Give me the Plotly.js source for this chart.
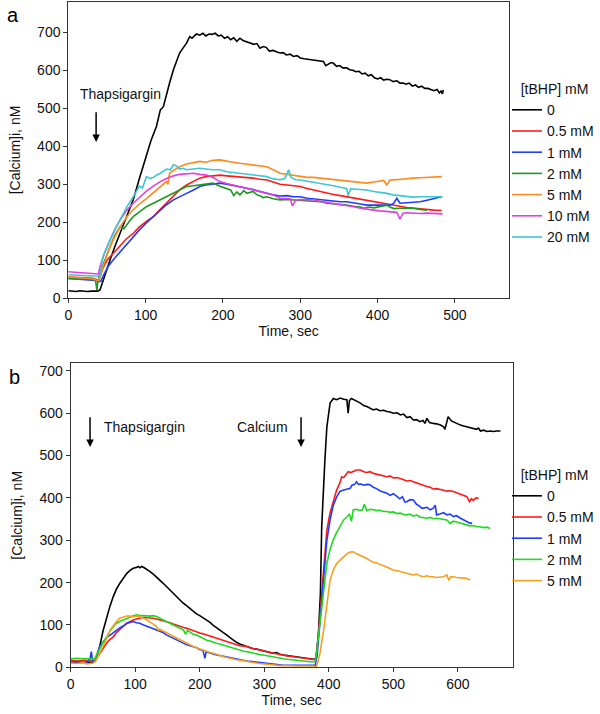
<!DOCTYPE html>
<html>
<head>
<meta charset="utf-8">
<script src="https://cdn.plot.ly/plotly-3.0.1.min.js"></script>
<style>
  html, body { margin: 0; padding: 0; background: #fff; }
  #chart { width: 600px; height: 714px; }
</style>
</head>
<body>
<div id="chart"></div>
<script>
// Panel a: [Calcium]i traces after thapsigargin, by tBHP dose
const aLabels = ["0", "0.5 mM", "1 mM", "2 mM", "5 mM", "10 mM", "20 mM"];

const aTime0 = [0, 5, 10, 15, 20, 25, 30, 35, 38, 41, 47, 54, 60, 67, 75, 84, 92, 101, 107, 114, 119, 123, 127, 131, 136, 140, 144, 149, 153, 157, 160, 163, 166, 170, 174, 178, 182, 186, 190, 194, 198, 202, 206, 210, 214, 218, 222, 226, 230, 235, 240, 244, 248, 252, 256, 260, 265, 270, 274, 278, 282, 287, 291, 296, 300, 305, 309, 313, 318, 322, 326, 330, 333, 336, 340, 343, 347, 351, 355, 360, 364, 368, 372, 376, 380, 384, 388, 392, 396, 400, 404, 408, 412, 416, 420, 425, 429, 433, 437, 441, 445, 449, 453, 457, 461, 465, 469, 473, 477, 480, 482, 484, 485];
const aVal0 = [20, 19, 18, 20, 19, 18, 19, 18, 19, 22, 60, 101, 135, 171, 212, 259, 315, 373, 415, 452, 495, 504, 539, 566, 601, 625, 645, 660, 671, 688, 684, 690, 695, 692, 697, 690, 695, 694, 697, 690, 692, 684, 688, 680, 685, 676, 684, 678, 675, 673, 668, 670, 658, 662, 660, 650, 652, 648, 645, 646, 640, 642, 636, 638, 632, 630, 629, 627, 626, 625, 624, 623, 612, 615, 620, 618, 610, 612, 606, 606, 601, 600, 596, 597, 590, 592, 585, 588, 580, 577, 580, 574, 576, 575, 570, 572, 566, 566, 563, 566, 558, 561, 555, 558, 552, 552, 548, 546, 549, 540, 545, 538, 548];

const aTime05 = [0, 10, 20, 30, 36, 39, 41, 45, 50, 58, 66, 75, 84, 92, 101, 110, 118, 127, 136, 144, 153, 162, 170, 178, 187, 196, 205, 213, 222, 230, 239, 248, 257, 265, 274, 283, 291, 300, 309, 317, 326, 335, 343, 352, 360, 369, 378, 386, 395, 403, 412, 420, 429, 438, 446, 455, 464, 473, 483];
const aVal05 = [56, 55, 54, 53, 50, 47, 57, 80, 100, 118, 138, 156, 171, 188, 202, 215, 232, 250, 268, 285, 298, 308, 316, 320, 322, 324, 322, 321, 320, 318, 316, 313, 311, 306, 300, 298, 296, 294, 289, 285, 281, 276, 273, 270, 267, 263, 260, 257, 254, 250, 248, 245, 242, 239, 237, 235, 233, 232, 231];

const aTime1 = [0, 10, 20, 30, 36, 39, 42, 46, 52, 58, 66, 75, 84, 92, 101, 110, 118, 127, 136, 144, 153, 162, 170, 178, 187, 196, 205, 213, 222, 230, 239, 248, 257, 265, 274, 283, 291, 300, 309, 317, 326, 335, 343, 352, 360, 369, 378, 386, 395, 403, 412, 416, 421, 425, 429, 438, 446, 455, 464, 473, 483];
const aVal1 = [52, 51, 50, 49, 47, 44, 45, 62, 85, 101, 120, 142, 162, 180, 198, 215, 230, 246, 259, 268, 276, 285, 294, 298, 300, 303, 300, 297, 294, 290, 286, 281, 276, 272, 269, 270, 267, 267, 263, 261, 259, 257, 256, 254, 254, 250, 248, 245, 245, 244, 245, 245, 250, 263, 250, 252, 253, 254, 258, 262, 267];

const aTime2 = [0, 10, 20, 30, 35, 37, 38, 41, 47, 54, 60, 67, 72, 76, 80, 84, 92, 101, 110, 119, 127, 136, 144, 153, 162, 170, 178, 187, 196, 205, 210, 214, 218, 222, 227, 231, 235, 239, 244, 248, 252, 257, 265, 274, 283, 291, 300, 309, 317, 326, 335, 343, 352, 360, 369, 378, 382, 390, 395, 403, 412, 416, 421, 429, 438, 446, 455, 464];
const aVal2 = [52, 51, 50, 50, 49, 22, 40, 66, 100, 136, 165, 188, 183, 195, 205, 215, 228, 241, 250, 259, 268, 276, 285, 294, 296, 298, 300, 303, 295, 289, 285, 270, 280, 272, 283, 276, 279, 281, 272, 270, 265, 267, 262, 259, 260, 259, 259, 257, 255, 254, 250, 249, 247, 245, 242, 240, 237, 240, 238, 242, 245, 240, 236, 237, 238, 237, 234, 232];

const aTime5 = [0, 10, 20, 30, 36, 39, 42, 45, 51, 58, 67, 76, 84, 93, 101, 110, 114, 120, 127, 129, 131, 136, 144, 153, 162, 170, 178, 187, 196, 205, 213, 222, 230, 239, 248, 257, 265, 274, 283, 291, 300, 309, 317, 326, 335, 343, 352, 360, 369, 378, 386, 395, 403, 408, 412, 416, 425, 433, 446, 455, 464, 473, 483];
const aVal5 = [56, 55, 54, 52, 48, 47, 60, 83, 120, 153, 188, 215, 233, 250, 262, 278, 285, 295, 307, 300, 329, 336, 346, 353, 357, 360, 358, 363, 364, 360, 358, 355, 353, 350, 348, 346, 338, 329, 326, 324, 320, 318, 318, 316, 313, 311, 309, 307, 305, 304, 303, 306, 309, 310, 298, 311, 312, 314, 316, 317, 318, 318, 320];

const aTime10 = [0, 10, 20, 30, 36, 39, 41, 47, 54, 60, 67, 75, 84, 93, 101, 110, 119, 127, 136, 144, 153, 162, 170, 179, 187, 196, 205, 213, 222, 230, 239, 248, 257, 265, 274, 283, 287, 290, 294, 300, 309, 317, 326, 335, 343, 352, 360, 369, 378, 386, 395, 403, 412, 420, 425, 429, 433, 438, 446, 455, 464, 473, 484];
const aVal10 = [70, 68, 66, 65, 63, 64, 83, 120, 153, 180, 206, 230, 250, 267, 282, 295, 307, 315, 322, 326, 328, 329, 326, 324, 318, 307, 302, 298, 294, 290, 285, 280, 276, 272, 263, 262, 262, 243, 258, 260, 259, 259, 255, 252, 249, 247, 245, 241, 237, 234, 232, 230, 228, 226, 226, 208, 224, 225, 224, 223, 224, 223, 222];

const aTime20 = [0, 10, 20, 30, 36, 39, 41, 45, 50, 54, 60, 67, 75, 84, 92, 96, 101, 106, 110, 115, 119, 127, 132, 136, 140, 144, 149, 153, 162, 170, 178, 187, 196, 205, 213, 222, 230, 239, 248, 257, 265, 274, 280, 285, 288, 294, 300, 309, 317, 326, 335, 343, 352, 360, 362, 365, 373, 386, 395, 403, 412, 420, 429, 438, 446, 455, 464, 473, 484];
const aVal20 = [62, 61, 60, 59, 57, 58, 60, 110, 135, 153, 180, 206, 238, 267, 295, 290, 320, 315, 318, 325, 329, 340, 338, 351, 348, 340, 342, 338, 340, 342, 340, 338, 338, 333, 331, 329, 327, 325, 322, 320, 314, 312, 315, 338, 318, 312, 311, 308, 305, 303, 299, 296, 292, 289, 270, 288, 287, 285, 281, 279, 276, 272, 270, 267, 266, 267, 267, 266, 267];

// Panel b: thapsigargin in Ca-free medium, then calcium added back
const bLabels = ["0", "0.5 mM", "1 mM", "2 mM", "5 mM"];

const bTime0 = [0, 10, 20, 30, 35, 38, 45, 50, 56, 61, 66, 71, 76, 82, 87, 92, 97, 102, 105, 107, 110, 114, 118, 123, 128, 133, 138, 143, 149, 154, 159, 164, 169, 174, 180, 185, 190, 195, 200, 205, 211, 216, 221, 226, 231, 237, 242, 247, 252, 257, 262, 268, 273, 278, 283, 288, 293, 298, 304, 309, 314, 319, 324, 330, 335, 340, 345, 350, 356, 361, 366, 371, 376, 380, 384, 387, 389, 394, 397, 402, 407, 412, 418, 423, 428, 430, 432, 435, 440, 444, 449, 454, 459, 464, 469, 474, 479, 485, 490, 495, 500, 506, 511, 516, 521, 526, 531, 536, 541, 546, 549, 552, 556, 562, 567, 573, 578, 580, 585, 590, 595, 600, 604, 609, 614, 619, 624, 629, 632, 635, 640, 645, 650, 655, 660, 666];
const bVal0 = [12, 11, 12, 11, 12, 17, 49, 85, 120, 145, 167, 185, 198, 212, 222, 229, 234, 236, 238, 235, 238, 235, 230, 226, 220, 214, 206, 199, 190, 183, 175, 167, 159, 152, 145, 138, 131, 126, 122, 117, 112, 106, 99, 93, 88, 82, 76, 70, 64, 59, 55, 52, 49, 46, 44, 43, 41, 39, 38, 35, 33, 35, 31, 29, 28, 26, 25, 24, 23, 22, 21, 20, 19, 20, 80, 175, 332, 490, 568, 624, 635, 632, 636, 633, 632, 600, 630, 635, 630, 628, 624, 618, 616, 612, 608, 610, 606, 607, 604, 603, 600, 601, 596, 598, 590, 592, 584, 585, 580, 583, 576, 588, 578, 576, 575, 572, 568, 562, 592, 582, 578, 575, 572, 570, 568, 566, 565, 562, 565, 558, 560, 557, 558, 557, 558, 558];

const bTime05 = [0, 10, 20, 30, 38, 45, 50, 56, 61, 66, 71, 76, 82, 87, 92, 97, 102, 107, 113, 118, 123, 128, 133, 138, 143, 149, 154, 159, 164, 169, 175, 180, 185, 190, 195, 200, 205, 211, 216, 221, 226, 231, 237, 242, 247, 252, 257, 262, 268, 273, 278, 283, 288, 293, 298, 304, 309, 314, 319, 324, 330, 335, 340, 345, 350, 356, 361, 366, 371, 376, 379, 381, 386.5, 392, 397, 402, 407, 412, 417, 420, 423, 427, 430, 434, 438, 443, 449, 454, 459, 464, 469, 474, 479, 485, 490, 495, 500, 506, 511, 516, 521, 526, 531, 536, 541, 547, 552, 557, 562, 567, 573, 578, 583, 588, 593, 598, 604, 609, 614, 618, 621, 624, 628, 632];
const bVal05 = [16, 15, 16, 15, 16, 33, 46, 58, 66, 72, 82, 90, 98, 104, 109, 112, 114, 116, 118, 117, 117, 116, 114, 112, 110, 108, 105, 102, 99, 97, 94, 92, 89, 86, 83, 81, 79, 76, 73, 70, 68, 65, 63, 60, 57, 55, 53, 51, 50, 49, 46, 44, 42, 40, 38, 37, 35, 33, 32, 30, 29, 27, 26, 25, 24, 22, 21, 20, 19, 19, 18, 22, 127, 246, 324, 365, 395, 418, 435, 450, 448, 455, 462, 460, 463, 466, 466, 462, 460, 462, 458, 456, 455, 452, 450, 452, 447, 448, 446, 443, 440, 441, 438, 435, 432, 430, 427, 425, 421, 422, 419, 418, 416, 417, 415, 412, 410, 406, 403, 391, 398, 394, 400, 399];

const bTime1 = [0, 10, 20, 25, 30, 32, 34, 38, 45, 50, 56, 61, 66, 71, 76, 82, 87, 92, 97, 102, 107, 113, 118, 123, 128, 133, 138, 143, 149, 154, 159, 164, 169, 175, 180, 185, 190, 195, 200, 205, 208, 210, 216, 221, 226, 231, 237, 242, 247, 252, 257, 262, 268, 273, 278, 283, 288, 293, 298, 304, 309, 314, 319, 324, 330, 340, 350, 360, 370, 376, 379, 382, 386.5, 392, 397, 402, 407, 412, 417, 422, 427, 433, 436, 440, 443, 446, 450, 454, 459, 464, 469, 474, 479, 485, 490, 495, 500, 505, 510, 514, 518, 521, 526, 531, 536, 541, 544, 547, 552, 557, 562, 565, 567, 572, 578, 583, 588, 593, 598, 604, 609, 614, 618, 622];
const bVal1 = [12, 13, 11, 12, 20, 37, 15, 14, 49, 60, 70, 76, 80, 87, 93, 98, 104, 106, 108, 105, 104, 100, 97, 94, 91, 88, 85, 82, 76, 72, 68, 64, 60, 56, 53, 51, 49, 46, 42, 40, 21, 37, 34, 31, 29, 28, 26, 25, 23, 21, 19, 17, 16, 15, 14, 13, 12, 11, 10, 9, 8, 7, 6, 5, 5, 5, 5, 4, 4, 4, 5, 30, 110, 222, 300, 348, 383, 402, 415, 418, 420, 423, 430, 432, 438, 432, 433, 430, 432, 431, 425, 422, 417, 414, 411, 406, 410, 404, 398, 403, 390, 391, 396, 395, 385, 380, 376, 376, 378, 372, 376, 383, 360, 362, 365, 360, 362, 356, 358, 352, 348, 345, 341, 340];

const bTime2 = [0, 10, 20, 30, 38, 40, 45, 50, 56, 61, 66, 71, 76, 82, 87, 92, 97, 102, 107, 113, 118, 123, 128, 133, 138, 143, 149, 154, 159, 164, 169, 175, 178, 181, 185, 190, 195, 200, 205, 211, 216, 221, 226, 231, 237, 242, 247, 252, 257, 262, 268, 273, 278, 283, 288, 293, 298, 304, 309, 314, 319, 324, 330, 335, 340, 345, 350, 356, 361, 366, 371, 376, 379, 381, 386.5, 392, 397, 402, 407, 412, 417, 423, 428, 432, 435, 438, 443, 448, 452, 455, 459, 464, 469, 474, 479, 485, 490, 495, 500, 506, 511, 516, 521, 526, 531, 536, 541, 547, 552, 557, 562, 567, 573, 578, 583, 588, 593, 598, 604, 609, 614, 619, 624, 629, 634, 640, 645, 650];
const bVal2 = [20, 21, 20, 20, 21, 29, 45, 58, 72, 86, 96, 104, 108, 112, 116, 119, 122, 124, 122, 122, 121, 121, 122, 120, 116, 112, 108, 104, 99, 96, 92, 88, 78, 87, 83, 78, 76, 72, 68, 64, 62, 59, 57, 55, 52, 50, 47, 45, 42, 40, 38, 37, 35, 33, 32, 30, 29, 27, 26, 25, 23, 22, 20, 19, 18, 17, 16, 15, 14, 14, 13, 13, 14, 33, 110, 180, 246, 278, 301, 318, 332, 348, 355, 362, 345, 372, 373, 370, 372, 385, 370, 373, 372, 370, 371, 368, 368, 366, 367, 363, 364, 361, 360, 362, 357, 360, 355, 354, 352, 354, 351, 352, 350, 348, 348, 340, 345, 343, 340, 338, 336, 334, 335, 332, 332, 330, 331, 328];

const bTime5 = [0, 10, 20, 25, 30, 35, 40, 45, 50, 56, 61, 66, 71, 76, 82, 87, 92, 97, 102, 107, 113, 118, 123, 128, 133, 136, 138, 143, 149, 154, 159, 164, 169, 175, 180, 185, 190, 195, 200, 205, 211, 216, 221, 226, 231, 237, 242, 247, 252, 257, 262, 268, 273, 278, 283, 288, 293, 298, 304, 309, 314, 319, 324, 330, 340, 350, 360, 370, 376, 381, 386, 392, 397, 402, 407, 412, 417.5, 423, 428, 433, 438, 443, 449, 454, 459, 464, 469, 474, 480, 485, 490, 495, 500, 506, 511, 516, 521, 526, 531, 536, 541, 547, 552, 557, 562, 567, 573, 578, 583, 586, 589, 593, 598, 604, 609, 614, 619];
const bVal5 = [10, 9, 11, 8, 9, 10, 18, 33, 50, 68, 88, 99, 108, 116, 119, 121, 121, 119, 121, 120, 116, 112, 108, 102, 96, 88, 90, 86, 81, 76, 72, 68, 64, 60, 56, 52, 49, 46, 43, 41, 38, 35, 33, 30, 28, 25, 23, 21, 19, 18, 17, 15, 14, 12, 11, 10, 9, 8, 8, 6, 5, 5, 4, 4, 3, 3, 3, 3, 3, 1, 30, 88, 150, 206, 230, 245, 253, 262, 268, 272, 273, 268, 264, 262, 257, 252, 248, 247, 242, 240, 236, 233, 230, 228, 226, 224, 222, 220, 218, 220, 216, 214, 216, 214, 214, 212, 213, 214, 218, 205, 214, 214, 212, 211, 210, 210, 206];

const aColors = ["#000000", "#ff1a1a", "#1f3dff", "#1a9a1a", "#ff8a1f", "#e040e0", "#3cc8d2"];
const bColors = ["#000000", "#ff1a1a", "#1f3dff", "#1fd81f", "#f5a01e"];

const aTimes = [aTime0, aTime05, aTime1, aTime2, aTime5, aTime10, aTime20];
const aVals = [aVal0, aVal05, aVal1, aVal2, aVal5, aVal10, aVal20];
const bTimes = [bTime0, bTime05, bTime1, bTime2, bTime5];
const bVals = [bVal0, bVal05, bVal1, bVal2, bVal5];

const FONT = "Liberation Sans, Arial, sans-serif";

const traces = [];
aLabels.forEach((name, i) => {
  traces.push({
    x: aTimes[i], y: aVals[i], name: name,
    type: "scatter", mode: "lines",
    line: { color: aColors[i], width: 1.6 },
    xaxis: "x", yaxis: "y", legend: "legend"
  });
});
bLabels.forEach((name, i) => {
  traces.push({
    x: bTimes[i], y: bVals[i], name: name,
    type: "scatter", mode: "lines",
    line: { color: bColors[i], width: 1.6 },
    xaxis: "x2", yaxis: "y2", legend: "legend2"
  });
});

const axisBase = {
  showline: true, linecolor: "#333", linewidth: 1, mirror: true,
  showgrid: false, zeroline: false,
  ticks: "outside", ticklen: 4, tickcolor: "#333",
  tickfont: { family: FONT, size: 14, color: "#111" }
};

// legend must stay inside the 600px paper, otherwise it pushes the margins;
// the title is nudged right with no-break spaces instead
const legendBase = {
  title: { text: "\u00a0\u00a0\u00a0[tBHP] mM", font: { family: FONT, size: 14, color: "#111" } },
  font: { family: FONT, size: 14, color: "#111" },
  bgcolor: "rgba(0,0,0,0)",
  xanchor: "left", yanchor: "top",
  itemwidth: 30, tracegroupgap: 0
};

const arrow = (xref, yref, x, yTop, yTip) => ({
  xref: xref, yref: yref, axref: xref, ayref: yref,
  x: x, y: yTip, ax: x, ay: yTop, text: "",
  showarrow: true, arrowhead: 2, arrowsize: 1, arrowwidth: 1.5, arrowcolor: "#000"
});

const layout = {
  width: 600, height: 714,
  margin: { l: 0, r: 0, t: 0, b: 0 },
  paper_bgcolor: "#fff", plot_bgcolor: "#fff",
  font: { family: FONT, size: 14, color: "#111" },
  showlegend: true,
  xaxis: Object.assign({}, axisBase, {
    domain: [0.1138, 0.8483], range: [0, 570], tickvals: [0, 100, 200, 300, 400, 500],
    anchor: "y",
    title: { text: "Time, sec", font: { family: FONT, size: 14 }, standoff: 3 }
  }),
  yaxis: Object.assign({}, axisBase, {
    domain: [0.5822, 0.9976], range: [0, 780], tickvals: [0, 100, 200, 300, 400, 500, 600, 700],
    anchor: "x",
    title: { text: "[Calcium]i, nM", font: { family: FONT, size: 14 }, standoff: 13 }
  }),
  xaxis2: Object.assign({}, axisBase, {
    domain: [0.1178, 0.8545], range: [0, 685], tickvals: [0, 100, 200, 300, 400, 500, 600],
    anchor: "y2",
    title: { text: "Time, sec", font: { family: FONT, size: 14 }, standoff: 0 }
  }),
  yaxis2: Object.assign({}, axisBase, {
    domain: [0.0654, 0.4912], range: [0, 718], tickvals: [0, 100, 200, 300, 400, 500, 600, 700],
    anchor: "x2",
    title: { text: "[Calcium]i, nM", font: { family: FONT, size: 14 }, standoff: 13 }
  }),
  legend: Object.assign({}, legendBase, { x: 0.845, y: 1 - 76 / 714 }),
  legend2: Object.assign({}, legendBase, { x: 0.845, y: 1 - 462 / 714 }),
  annotations: [
    { xref: "paper", yref: "paper", x: 0.008, y: 1 - 15 / 714, text: "a", showarrow: false,
      xanchor: "left", yanchor: "middle", font: { family: FONT, size: 20, color: "#000" } },
    { xref: "paper", yref: "paper", x: 0.012, y: 1 - 377 / 714, text: "b", showarrow: false,
      xanchor: "left", yanchor: "middle", font: { family: FONT, size: 20, color: "#000" } },
    { xref: "x", yref: "y", x: 67, y: 538, text: "Thapsigargin", showarrow: false,
      font: { family: FONT, size: 14, color: "#111" } },
    arrow("x", "y", 36, 493, 411),
    { xref: "x2", yref: "y2", x: 115, y: 567, text: "Thapsigargin", showarrow: false,
      font: { family: FONT, size: 14, color: "#111" } },
    arrow("x2", "y2", 30, 594, 520),
    { xref: "x2", yref: "y2", x: 297, y: 567, text: "Calcium", showarrow: false,
      font: { family: FONT, size: 14, color: "#111" } },
    arrow("x2", "y2", 357, 594, 520)
  ]
};

Plotly.newPlot("chart", traces, layout, { displayModeBar: false, staticPlot: true });
</script>
</body>
</html>
